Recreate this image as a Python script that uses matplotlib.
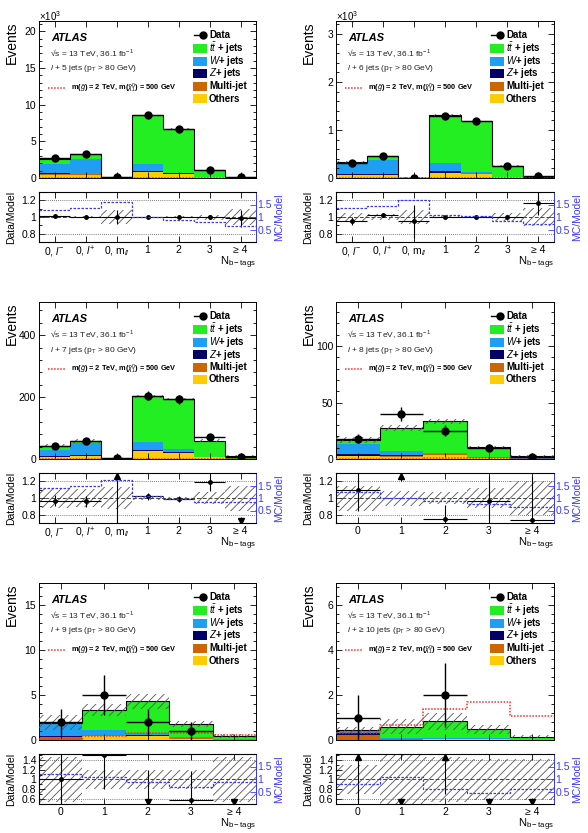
import numpy as np
import matplotlib.pyplot as plt
from matplotlib.patches import Rectangle
from matplotlib.ticker import AutoMinorLocator, FuncFormatter

plt.rcParams['font.family'] = ['Liberation Sans', 'DejaVu Sans']
plt.rcParams['mathtext.fontset'] = 'custom'
plt.rcParams['mathtext.rm'] = 'Liberation Sans'
plt.rcParams['mathtext.it'] = 'Liberation Sans:italic'
plt.rcParams['mathtext.bf'] = 'Liberation Sans:bold'
plt.rcParams['hatch.linewidth'] = 0.6
plt.rcParams['hatch.color'] = '#555555'

# x-axis categories
bins_lep = ["0, $l^{-}$", "0, $l^{+}$", "0, m$_{ll}$", "1", "2", "3", "≥ 4"]
bins_btag = ["0", "1", "2", "3", "≥ 4"]

# ---- l + 5 jets ----
data_5j = [2700, 3320, 120, 8550, 6700, 1050, 147]
others_5j = [450, 450, 50, 750, 550, 150, 20]
multijet_5j = [100, 50, 10, 50, 30, 10, 5]
zjets_5j = [120, 100, 30, 120, 40, 10, 5]
wjets_5j = [1300, 2000, 10, 1050, 100, 30, 10]
ttbar_5j = [670, 700, 20, 6600, 6000, 850, 110]
signal_5j = [0.5, 0.5, 0.1, 2, 4, 5, 3]
ratio_5j = [1.01, 1.0, 1.0, 1.0, 1.0, 1.0, 0.985]
ratio_err_5j = [0.01, 0.01, 0.085, 0.005, 0.005, 0.02, 0.1]
syst_5j = [0.012, 0.01, 0.08, 0.005, 0.008, 0.03, 0.1]
mc_ratio_5j = [1.27, 1.35, 1.6, 1.0, 0.89, 0.8, 0.63]

# ---- l + 6 jets ----
data_6j = [320, 458, 10, 1300, 1180, 250, 35]
others_6j = [60, 60, 3, 100, 90, 20, 3]
multijet_6j = [10, 5, 1, 10, 5, 2, 0.5]
zjets_6j = [15, 15, 2, 30, 10, 3, 0.5]
wjets_6j = [200, 290, 2, 170, 20, 5, 1]
ttbar_6j = [50, 80, 2, 1000, 1055, 230, 25]
signal_6j = [0.3, 0.3, 0.1, 1, 2, 3, 2]
ratio_6j = [0.95, 1.03, 0.95, 1.0, 1.0, 1.0, 1.17]
ratio_err_6j = [0.05, 0.02, 0.2, 0.01, 0.01, 0.03, 0.14]
syst_6j = [0.05, 0.04, 0.08, 0.01, 0.01, 0.05, 0.11]
mc_ratio_6j = [1.36, 1.43, 1.67, 1.09, 1.03, 0.83, 0.73]

# ---- l + 7 jets ----
data_7j = [42, 58, 4, 205, 193, 70, 7]
others_7j = [6.5, 8.5, 1.5, 25, 19, 5, 1]
multijet_7j = [0.5, 0.5, 0.2, 1, 0.5, 0.3, 0.1]
zjets_7j = [2, 4, 0.5, 4, 2, 0.5, 0.2]
wjets_7j = [20, 39, 0.3, 24, 10, 1.5, 0.3]
ttbar_7j = [14, 7.5, 0.5, 148, 163.5, 51.7, 8.4]
signal_7j = [0.1, 0.1, 0.05, 0.5, 1, 1.5, 1]
ratio_7j = [0.97, 0.96, 1.33, 1.02, 0.99, 1.19, 0.65]
ratio_err_7j = [0.07, 0.07, 1.0, 0.04, 0.04, 0.1, 0.03]
syst_7j = [0.12, 0.11, 0.13, 0.02, 0.015, 0.07, 0.15]
mc_ratio_7j = [1.4, 1.47, 1.71, 1.09, 0.96, 0.83, 0.83]

# ---- l + 8 jets ----
data_8j = [18, 40, 25, 10, 2]
others_8j = [2.5, 2.2, 3.8, 0.9, 0.3]
multijet_8j = [0.3, 0.2, 0.2, 0.1, 0.05]
zjets_8j = [1.2, 1.3, 0.4, 0.1, 0.05]
wjets_8j = [9.5, 3.8, 1.0, 0.3, 0.1]
ttbar_8j = [3.5, 20, 28.1, 9.1, 2.2]
signal_8j = [0.1, 0.25, 0.45, 0.5, 0.4]
ratio_8j = [1.1, 1.44, 0.75, 0.97, 0.74]
ratio_err_8j = [0.26, 0.23, 0.17, 0.3, 0.52]
syst_8j = [0.15, 0.09, 0.07, 0.12, 0.2]
mc_ratio_8j = [1.24, 1.01, 0.88, 0.75, 0.65]

# ---- l + 9 jets ----
data_9j = [2, 5, 2, 1, 0]
others_9j = [0.03, 0.4, 0.4, 0.15, 0.05]
multijet_9j = [0.25, 0.05, 0.05, 0.05, 0.0]
zjets_9j = [0.12, 0.05, 0.1, 0.05, 0.0]
wjets_9j = [1.45, 0.6, 0.2, 0.05, 0.02]
ttbar_9j = [0.1, 2.25, 3.55, 1.45, 0.38]
signal_9j = [0.15, 0.45, 0.8, 0.75, 0.55]
ratio_9j = [1.02, 1.49, 0.47, 0.58, 0.0]
ratio_err_9j = [0.72, 0.68, 0.72, 0.6, 0.0]
syst_9j = [0.45, 0.2, 0.2, 0.2, 0.45]
mc_ratio_9j = [1.2, 1.1, 0.88, 0.68, 0.88]

# ---- l + >=10 jets ----
data_10j = [1, 0, 2, 0, 0]
others_10j = [0.02, 0.02, 0.05, 0.06, 0.01]
multijet_10j = [0.22, 0.01, 0.0, 0.0, 0.0]
zjets_10j = [0.06, 0.01, 0.01, 0.0, 0.0]
wjets_10j = [0.08, 0.07, 0.02, 0.01, 0.0]
ttbar_10j = [0.07, 0.49, 0.75, 0.4, 0.14]
signal_10j = [0.3, 0.65, 1.4, 1.7, 1.07]
ratio_10j = [2.2, 0.0, 2.4, 0.0, 0.0]
ratio_err_10j = [2.2, 0.0, 1.7, 0.0, 0.0]
syst_10j = [0.29, 0.55, 0.45, 0.42, 0.42]
mc_ratio_10j = [0.82, 1.09, 0.6, 0.44, 0.6]

panels = [
    ("5 jets", bins_lep, data_5j, [others_5j, multijet_5j, zjets_5j, wjets_5j, ttbar_5j],
     signal_5j, ratio_5j, ratio_err_5j, syst_5j, mc_ratio_5j),
    ("6 jets", bins_lep, data_6j, [others_6j, multijet_6j, zjets_6j, wjets_6j, ttbar_6j],
     signal_6j, ratio_6j, ratio_err_6j, syst_6j, mc_ratio_6j),
    ("7 jets", bins_lep, data_7j, [others_7j, multijet_7j, zjets_7j, wjets_7j, ttbar_7j],
     signal_7j, ratio_7j, ratio_err_7j, syst_7j, mc_ratio_7j),
    ("8 jets", bins_btag, data_8j, [others_8j, multijet_8j, zjets_8j, wjets_8j, ttbar_8j],
     signal_8j, ratio_8j, ratio_err_8j, syst_8j, mc_ratio_8j),
    ("9 jets", bins_btag, data_9j, [others_9j, multijet_9j, zjets_9j, wjets_9j, ttbar_9j],
     signal_9j, ratio_9j, ratio_err_9j, syst_9j, mc_ratio_9j),
    ("≥ 10 jets", bins_btag, data_10j, [others_10j, multijet_10j, zjets_10j, wjets_10j, ttbar_10j],
     signal_10j, ratio_10j, ratio_err_10j, syst_10j, mc_ratio_10j),
]

# axis settings per panel
y_max = [21400, 3270, 507, 139, 17.5, 7.0]
y_step = [5000, 1000, 200, 50, 5, 2]
y_scale_label = ["×10$^{3}$", "×10$^{3}$", None, None, None, None]
ratio_lim = [(0.7, 1.3)] * 4 + [(0.5, 1.52)] * 2
ratio_ticks = [[0.8, 1, 1.2]] * 4 + [[0.6, 0.8, 1, 1.2, 1.4]] * 2

# styles
stack_colors = ['#ffcc00', '#cc6600', '#000066', '#1e9ff2', '#22ee22']
stack_labels = [r"$t\bar{t}$ + jets", r"$W$+ jets", r"$Z$+ jets", "Multi-jet", "Others"]
legend_colors = ['#22ee22', '#1e9ff2', '#000066', '#cc6600', '#ffcc00']
BLUE = '#3b3bf5'

# layout in pixels
W, H = 588, 833
COL_LEFT = [39, 336]
COL_WIDTH = [217, 218]
ROW_TOP = [21, 302, 583]
MAIN_H, GAP, RATIO_H = 157, 14, 50


def px_rect(left, top, w, h):
    return [left / W, 1 - (top + h) / H, w / W, h / H]


def ax_frac(width, height, dx, dy):
    return dx / width, 1 - dy / height


fig = plt.figure(figsize=(W / 100, H / 100), dpi=100)

for i, (njets, labels, data, stack, signal, ratio, ratio_err, syst, mc_ratio) in enumerate(panels):
    col, row = i % 2, i // 2
    left, width, top = COL_LEFT[col], COL_WIDTH[col], ROW_TOP[row]
    ax = fig.add_axes(px_rect(left, top, width, MAIN_H))
    rax = fig.add_axes(px_rect(left, top + MAIN_H + GAP, width, RATIO_H))

    n = len(data)
    x = np.arange(n)
    edges = np.arange(n + 1) - 0.5
    data = np.array(data, dtype=float)

    # stacked backgrounds
    bottom = np.zeros(n)
    for vals, c in zip(stack, stack_colors):
        vals = np.array(vals, dtype=float)
        ax.bar(x, vals, width=1.0, bottom=bottom, color=c, linewidth=0, zorder=1)
        bottom += vals
    total = bottom
    ax.stairs(total, edges, baseline=None, color='k', lw=0.8, zorder=2)
    unc = total * np.array(syst)
    ax.bar(x, 2 * unc, bottom=total - unc, width=1.0, fill=False, hatch='////',
           edgecolor='#555555', linewidth=0, zorder=3)
    ax.stairs(signal, edges, baseline=None, color='#ff2a2a', ls=(0, (1, 1)), lw=1.1, zorder=4)
    m = data > 0
    ax.errorbar(x[m], data[m], xerr=0.5, yerr=np.sqrt(data[m]), fmt='o', color='k',
                ms=5, elinewidth=1, capsize=0, zorder=5)

    ax.set_xlim(-0.5, n - 0.5)
    ax.set_ylim(0, y_max[i])
    ax.set_xticks(x)
    ax.set_yticks(np.arange(0, y_max[i], y_step[i]))
    ax.yaxis.set_minor_locator(AutoMinorLocator(5))
    if y_scale_label[i]:
        ax.yaxis.set_major_formatter(FuncFormatter(lambda v, _: f"{v / 1000:g}"))
        fig.text(left / W, 1 - 16 / H, y_scale_label[i], fontsize=7, ha='left', va='center')
    else:
        ax.yaxis.set_major_formatter(FuncFormatter(lambda v, _: f"{v:g}"))
    ax.tick_params(axis='both', which='both', direction='in', top=True, right=True,
                   labelbottom=False, labelsize=7.5, pad=2, width=0.6)
    ax.tick_params(which='major', length=4)
    ax.tick_params(which='minor', length=2)
    for s in ax.spines.values():
        s.set_linewidth(0.7)

    # texts inside main panel
    def put(dx, dy, txt, **kw):
        fx, fy = ax_frac(width, MAIN_H, dx, dy)
        ax.text(fx, fy, txt, transform=ax.transAxes, va='center', ha='left', **kw)

    put(12, 17, "ATLAS", fontsize=8, fontweight='bold', style='italic')
    put(11, 32, "√s = 13 TeV, 36.1 fb$^{-1}$", fontsize=6, color='#222222')
    put(11, 48, "$l$ + " + njets + r" (p$_{\mathrm{T}}$ > 80 GeV)", fontsize=6, color='#222222')
    fx0, fy0 = ax_frac(width, MAIN_H, 9, 67)
    fx1, _ = ax_frac(width, MAIN_H, 27, 67)
    ax.plot([fx0, fx1], [fy0, fy0], transform=ax.transAxes, color='#ff2a2a',
            ls=(0, (1, 1)), lw=1.1, clip_on=False)
    put(32, 67, r"m($\tilde{g}$) = 2 TeV, m($\tilde{\chi}^{0}_{1}$) = 500 GeV",
        fontsize=5.3, fontweight='bold')

    # legend
    fxa, fy = ax_frac(width, MAIN_H, 155, 14)
    fxm, _ = ax_frac(width, MAIN_H, 164, 14)
    ax.plot([fxa, fxm], [fy, fy], transform=ax.transAxes, color='k', lw=1, clip_on=False)
    ax.plot([fxm], [fy], 'o', transform=ax.transAxes, color='k', ms=5, clip_on=False)
    put(170, 14, "Data", fontsize=7, fontweight='bold')
    for k, (lab, c) in enumerate(zip(stack_labels, legend_colors)):
        dy = 27.5 + 12.5 * k
        fx, fy = ax_frac(width, MAIN_H, 154, dy + 4.5)
        ax.add_patch(Rectangle((fx, fy), 14 / width, 9 / MAIN_H, transform=ax.transAxes,
                               color=c, lw=0, clip_on=False))
        put(170, dy, lab, fontsize=7, fontweight='bold')

    # ratio panel
    lo, hi = ratio_lim[i]
    rs = np.array(syst)
    rax.bar(x, 2 * rs, bottom=1 - rs, width=1.0, fill=False, hatch='////',
            edgecolor='#555555', linewidth=0, zorder=1)
    for yl in ratio_ticks[i]:
        if yl == 1:
            rax.axhline(1, color='#444444', lw=0.7, ls=(0, (4, 2)), zorder=2)
        elif yl in (0.8, 1.2) and hi < 1.4 or yl in (0.6, 1.4):
            rax.axhline(yl, color='#555555', lw=0.6, ls=(0, (1, 1.5)), zorder=2)
    r = np.array(ratio)
    re = np.array(ratio_err)
    inside = (r >= lo) & (r <= hi)
    rax.errorbar(x[inside], r[inside], xerr=0.5, yerr=re[inside], fmt='o', color='k',
                 ms=2.5, elinewidth=0.8, capsize=0, zorder=4)
    above = r > hi
    arrow_off = 0.05 * (hi - lo)
    rax.vlines(x[above], np.clip(r[above] - re[above], lo, hi), hi, color='k', lw=0.8, zorder=4)
    rax.plot(x[above], np.full(above.sum(), hi - arrow_off), '^', color='k', ms=4, zorder=5)
    below = r < lo
    rax.vlines(x[below], lo, np.clip(r[below] + re[below], lo, hi), color='k', lw=0.8, zorder=4)
    rax.plot(x[below], np.full(below.sum(), lo + arrow_off), 'v', color='k', ms=4, zorder=5)

    rax.set_xlim(-0.5, n - 0.5)
    rax.set_ylim(lo, hi)
    rax.set_xticks(x)
    rax.set_xticklabels(labels)
    rax.set_yticks(ratio_ticks[i])
    rax.yaxis.set_major_formatter(FuncFormatter(lambda v, _: f"{v:g}"))
    rax.yaxis.set_minor_locator(AutoMinorLocator(2))
    rax.tick_params(axis='both', which='both', direction='in', top=True, right=False,
                    labelsize=7.5, pad=2, width=0.6)
    rax.tick_params(which='major', length=4)
    rax.tick_params(which='minor', length=2)
    for s in rax.spines.values():
        s.set_linewidth(0.7)

    rax2 = rax.twinx()
    rax2.set_ylim(0, 2)
    rax2.stairs(mc_ratio, edges, baseline=None, color=BLUE, ls=(0, (2, 1.2)), lw=0.9)
    rax2.set_yticks([0.5, 1, 1.5])
    rax2.yaxis.set_major_formatter(FuncFormatter(lambda v, _: f"{v:g}"))
    rax2.tick_params(axis='y', direction='in', colors=BLUE, labelsize=7.5, pad=1,
                     length=4, width=0.6)
    rax2.spines['right'].set_color(BLUE)
    rax2.spines['right'].set_linewidth(0.7)

    # axis titles
    fig.text((left - 27) / W, 1 - top / H, "Events", rotation=90, ha='center', va='top',
             fontsize=10)
    rc = 1 - (top + MAIN_H + GAP + RATIO_H / 2) / H
    fig.text((left - 28) / W, rc, "Data/Model", rotation=90, ha='center', va='center',
             fontsize=7.5)
    fig.text((left + width + 23) / W, rc, "MC/Model", rotation=90, ha='center',
             va='center', fontsize=7.5, color=BLUE)
    fig.text((left + width) / W, 1 - (top + MAIN_H + GAP + RATIO_H + 21) / H,
             r"N$_{\mathrm{b-tags}}$", ha='right', va='center', fontsize=8)

fig.savefig("out.png", dpi=100)
